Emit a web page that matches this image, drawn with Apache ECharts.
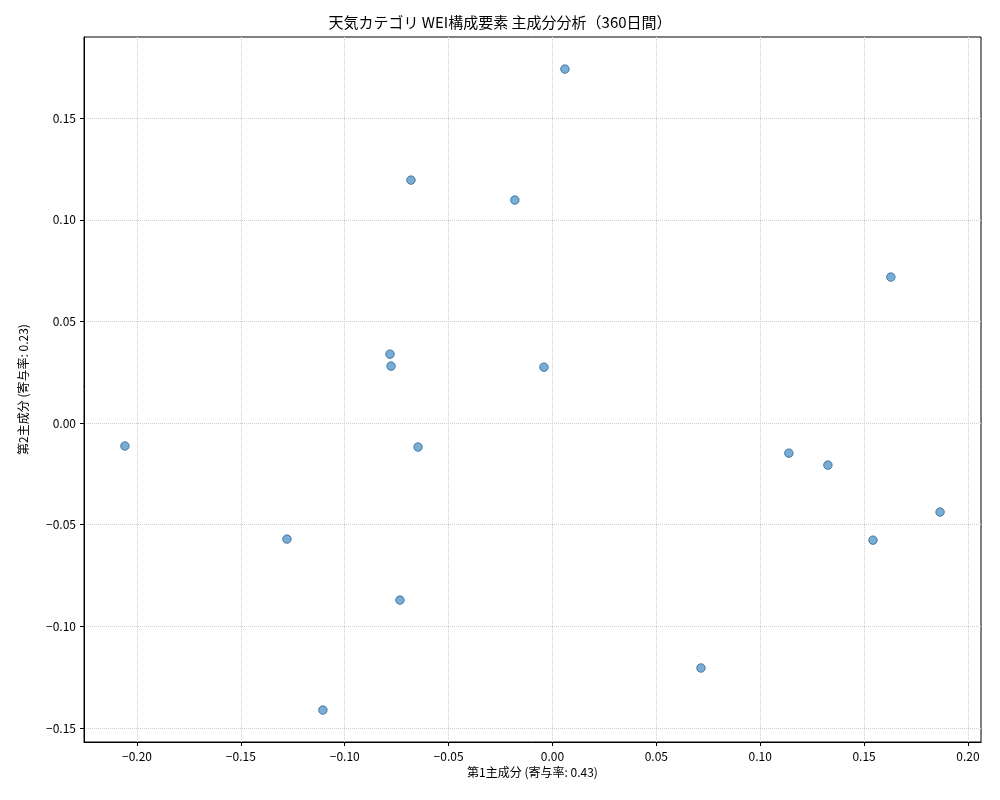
<!DOCTYPE html><html><head><meta charset="utf-8"><script src="https://cdn.jsdelivr.net/npm/echarts@6/dist/echarts.min.js"></script></head><body style="margin:0"><div id="c" style="width:1000px;height:800px"></div><script>
const xs=[0.0060,-0.0681,-0.0181,0.1629,-0.0782,-0.0777,-0.0041,-0.2058,-0.0647,0.1138,0.1326,0.1866,-0.1278,0.1543,-0.0734,0.0715,-0.1105];
const ys=[0.1741,0.1195,0.1097,0.0718,0.0339,0.0280,0.0275,-0.0113,-0.0118,-0.0148,-0.0207,-0.0438,-0.0571,-0.0576,-0.0871,-0.1205,-0.1412];
const xTicks=[-0.20,-0.15,-0.10,-0.05,0.00,0.05,0.10,0.15,0.20];
const yTicks=[-0.15,-0.10,-0.05,0.00,0.05,0.10,0.15];
const F='"Noto Sans CJK JP", "DejaVu Sans", sans-serif';
const fmt=v=>v.toFixed(2).replace('-','\u2212');
const ax=(min,max,ticks,name,gap)=>({type:'value',min,max,name,nameLocation:'middle',nameGap:gap,
 nameTextStyle:{fontFamily:F,fontSize:12,color:'#000'},
 axisLine:{show:true,onZero:false,lineStyle:{color:'#000'}},
 axisTick:{show:true,customValues:ticks,length:4,inside:false,lineStyle:{color:'#000'}},
 axisLabel:{customValues:ticks,formatter:fmt,fontFamily:F,fontSize:12,color:'#000'},
 splitLine:{show:true,lineStyle:{color:'#d0d0d0',type:'dotted'}}});
const chart=echarts.init(document.getElementById('c'));
chart.setOption({
 title:{text:'天気カテゴリ WEI構成要素 主成分分析（360日間）',left:'center',top:10,textStyle:{fontFamily:F,fontSize:15,fontWeight:'normal',color:'#000'}},
 grid:{left:84,right:19,top:37,bottom:58,show:true,borderColor:'#000',borderWidth:1},
 xAxis:ax(-0.2255,0.2063,xTicks,'第1主成分 (寄与率: 0.43)',22),
 yAxis:ax(-0.1569,0.1899,yTicks,'第2主成分 (寄与率: 0.23)',55),
 series:[{type:'scatter',symbolSize:8.5,data:xs.map((x,i)=>[x,ys[i]]),
  itemStyle:{color:'rgba(31,119,180,0.75)',borderColor:'rgba(31,90,150,0.9)',borderWidth:1}}]
});
</script></body></html>
